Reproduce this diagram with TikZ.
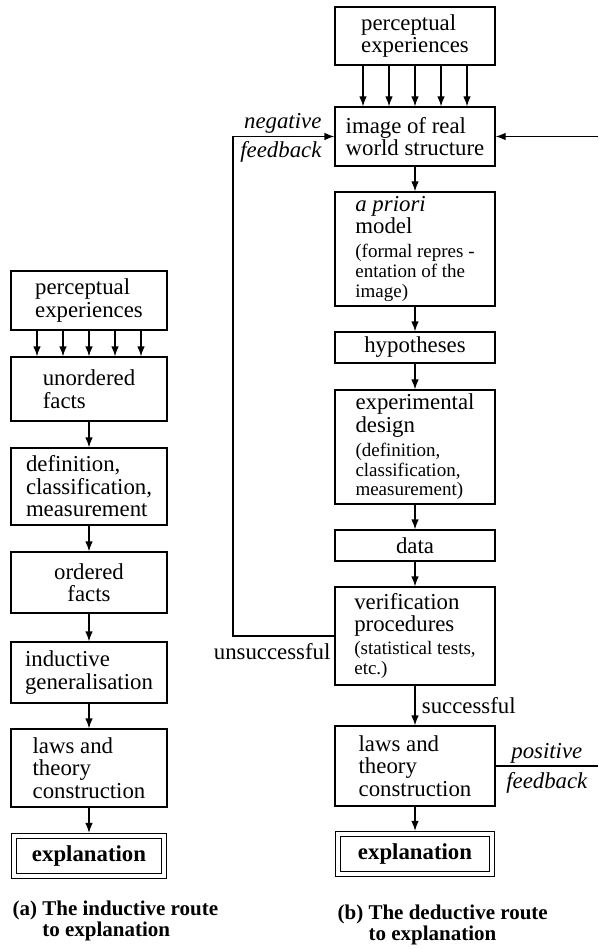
\documentclass[tikz,border=0pt]{standalone}
\usepackage{fontspec}
\setmainfont{Liberation Serif}
\usepackage{tikz}
\usetikzlibrary{arrows.meta,positioning,calc}
\newcommand{\bodysize}{\fontsize{22.8}{22.5}\selectfont}
\newcommand{\smalltext}[1]{{\fontsize{19}{19}\selectfont #1}}

\begin{document}
\begin{tikzpicture}[x=1pt,y=-1pt,line width=1.2pt,
  every node/.style={font=\bodysize},
  stage/.style={draw,minimum width=#1,align=left,inner sep=0pt},
  stage/.default=156pt,
  goal/.style={draw,double,double distance=3.5pt,minimum width=#1,minimum height=40pt,inner sep=0pt,font=\bodysize\bfseries},
  goal/.default=150pt,
  lbl/.style={inner sep=0pt},
  flow/.style={-{Latex[length=10pt,width=7.5pt]}}]
  \useasboundingbox (0,0) rectangle (598,949);

  % (a) inductive route
  \node[stage,minimum height=59pt] (lpercept) at (89,300.5) {perceptual\\experiences};
  \node[stage,minimum height=64pt] (lfacts) at (89,389) {unordered\\facts};
  \node[stage,minimum height=77pt] (ldef) at (89,486.5) {definition,\\classification,\\measurement};
  \node[stage,minimum height=61pt,align=center] (lorder) at (89,582.5) {ordered\\facts};
  \node[stage,minimum height=61pt] (lind) at (89,672.5) {inductive\\generalisation};
  \node[stage,minimum height=78pt] (llaws) at (89,768) {laws and\\theory\\construction};
  \node[goal] (lexpl) at (89,856) {explanation};

  \foreach \dx in {-52,-26,0,26,52}
    \draw[flow] ([xshift=\dx pt]lpercept.south) -- ([xshift=\dx pt]lfacts.north);
  \draw[flow] (lfacts) -- (ldef);
  \draw[flow] (ldef) -- (lorder);
  \draw[flow] (lorder) -- (lind);
  \draw[flow] (lind) -- (llaws);
  \draw[flow,shorten >=2.5pt] (llaws) -- (lexpl);

  \node[lbl,anchor=north west,align=left,font=\fontsize{21}{21}\selectfont\bfseries] (capa) at (12,900)
    {(a) The inductive route\\\hphantom{(a) }to explanation};

  % (b) deductive route
  \node[stage=160pt,minimum height=58pt] (rpercept) at (415,36) {perceptual\\experiences};
  \node[stage=160pt,minimum height=59pt] (rimage) at (415,136.5) {image of real\\world structure};
  \node[stage=160pt,minimum height=114pt] (rmodel) at (415,249)
    {{\itshape a priori}\\model\\[1pt]\smalltext{(formal repres -}\\[-2.5pt]\smalltext{entation of the}\\[-2.5pt]\smalltext{image)}};
  \node[stage=160pt,minimum height=31pt,align=center] (rhyp) at (415,347.5) {hypotheses};
  \node[stage=160pt,minimum height=114pt] (rdesign) at (415,447)
    {experimental\\design\\[2pt]\smalltext{(definition,}\\[-3pt]\smalltext{classification,}\\[-3pt]\smalltext{measurement)}};
  \node[stage=160pt,minimum height=31pt,align=center] (rdata) at (415,545.5) {data};
  \node[stage=160pt,minimum height=98pt] (rverif) at (415,636)
    {verification\\procedures\\\smalltext{(statistical tests,}\\[-2pt]\smalltext{etc.)}};
  \node[stage=160pt,minimum height=80pt] (rlaws) at (415,766) {laws and\\theory\\construction};
  \node[goal=154pt] (rexpl) at (415,854) {explanation};

  \foreach \dx in {-52,-26,0,26,52}
    \draw[flow] ([xshift=\dx pt]rpercept.south) -- ([xshift=\dx pt]rimage.north);
  \draw[flow] (rimage) -- (rmodel);
  \draw[flow] (rmodel) -- (rhyp);
  \draw[flow] (rhyp) -- (rdesign);
  \draw[flow] (rdesign) -- (rdata);
  \draw[flow] (rdata) -- (rverif);
  \draw[flow] (rverif) -- node[right=3pt] (succ) {successful} (rlaws);
  \draw[flow,shorten >=2.5pt] (rlaws) -- (rexpl);

  % feedback loops
  \coordinate (negx) at (233,0);
  \coordinate (posx) at (598,0);
  \draw[flow] (rverif.west) -- (rverif.west -| negx) -- (rimage.west -| negx) -- (rimage.west);
  \node[lbl,anchor=east] (negword) at (322,123) {\itshape negative};
  \node[lbl,anchor=east] (negfb) at (322,152) {\itshape feedback};
  \node[lbl,anchor=east] (unsucc) at (331,652) {unsuccessful};
  \draw[flow] (rimage.east -| posx) -- (rimage.east);
  \draw (rlaws.east) -- (rlaws.east -| posx)
    node[pos=0.5,above,inner sep=2pt] (posword) {\itshape positive}
    node[pos=0.5,below,inner sep=6pt] (posfb) {\itshape feedback};

  \node[lbl,anchor=north west,align=left,font=\fontsize{21}{21}\selectfont\bfseries] (capb) at (337,904)
    {(b) The deductive route\\\hphantom{(b) }to explanation};
\end{tikzpicture}
\end{document}
